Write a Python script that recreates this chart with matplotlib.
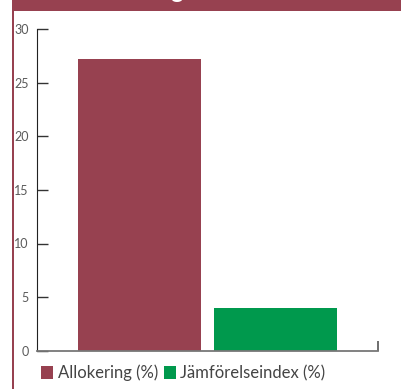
import matplotlib.pyplot as plt
from matplotlib.patches import Rectangle

# andelar i procent
serier = ['Allokering (%)', 'Jämförelseindex (%)']
varden = [27.2, 4.0]
farger = ['#974150', '#00994d']
yticks = [0, 5, 10, 15, 20, 25, 30]

plt.rcParams['font.family'] = ['Lato', 'DejaVu Sans']

fig = plt.figure(figsize=(4.02, 3.89), dpi=100)
ax = fig.add_axes([37 / 402, 1 - 350.5 / 389, 341 / 402, 321 / 389])

pos = [-0.5, 0.5]
for x, v, c, s in zip(pos, varden, farger, serier):
    ax.bar(x, v, width=0.9, color=c, label=s)

ax.set_xlim(-1.254, 1.254)
ax.set_ylim(0, 30)
ax.set_yticks(yticks)
ax.set_yticklabels([str(t) for t in yticks])
ax.tick_params(axis='y', direction='in', length=8, width=1, color='#333333',
               labelcolor='#5a5a5a', labelsize=9, pad=6)
ax.yaxis.get_major_ticks()[0].tick1line.set_color('#00994d')
ax.set_xticks([1.254])
ax.set_xticklabels([''])
ax.tick_params(axis='x', direction='in', length=7, width=1.2, color='#555555')

for side in ['top', 'right']:
    ax.spines[side].set_visible(False)
ax.spines['left'].set_color('#222222')
ax.spines['bottom'].set_color('#777777')
ax.spines['bottom'].set_linewidth(1.3)

ax.legend(loc='center left', bbox_to_anchor=(41 / 402, 1 - 373 / 389),
          bbox_transform=fig.transFigure, frameon=False, ncol=2,
          handlelength=0.75, handleheight=0.75, handletextpad=0.25,
          columnspacing=0.35, borderaxespad=0, borderpad=0,
          prop={'size': 12}, labelcolor='#444444')

# ram och rubrikband
fig.add_artist(Rectangle((13 / 402, 1 - 11 / 389), 1, 11 / 389,
                         transform=fig.transFigure, color='#974150', lw=0))
fig.add_artist(Rectangle((12.5 / 402, 0), 1.5 / 402, 1,
                         transform=fig.transFigure, color='#974150', lw=0))
fig.text(184 / 402, 1 + 2 / 389, 'Allokering', color='white', fontsize=17,
         fontweight='bold', ha='right', va='baseline')

fig.savefig('out.png', dpi=100)
